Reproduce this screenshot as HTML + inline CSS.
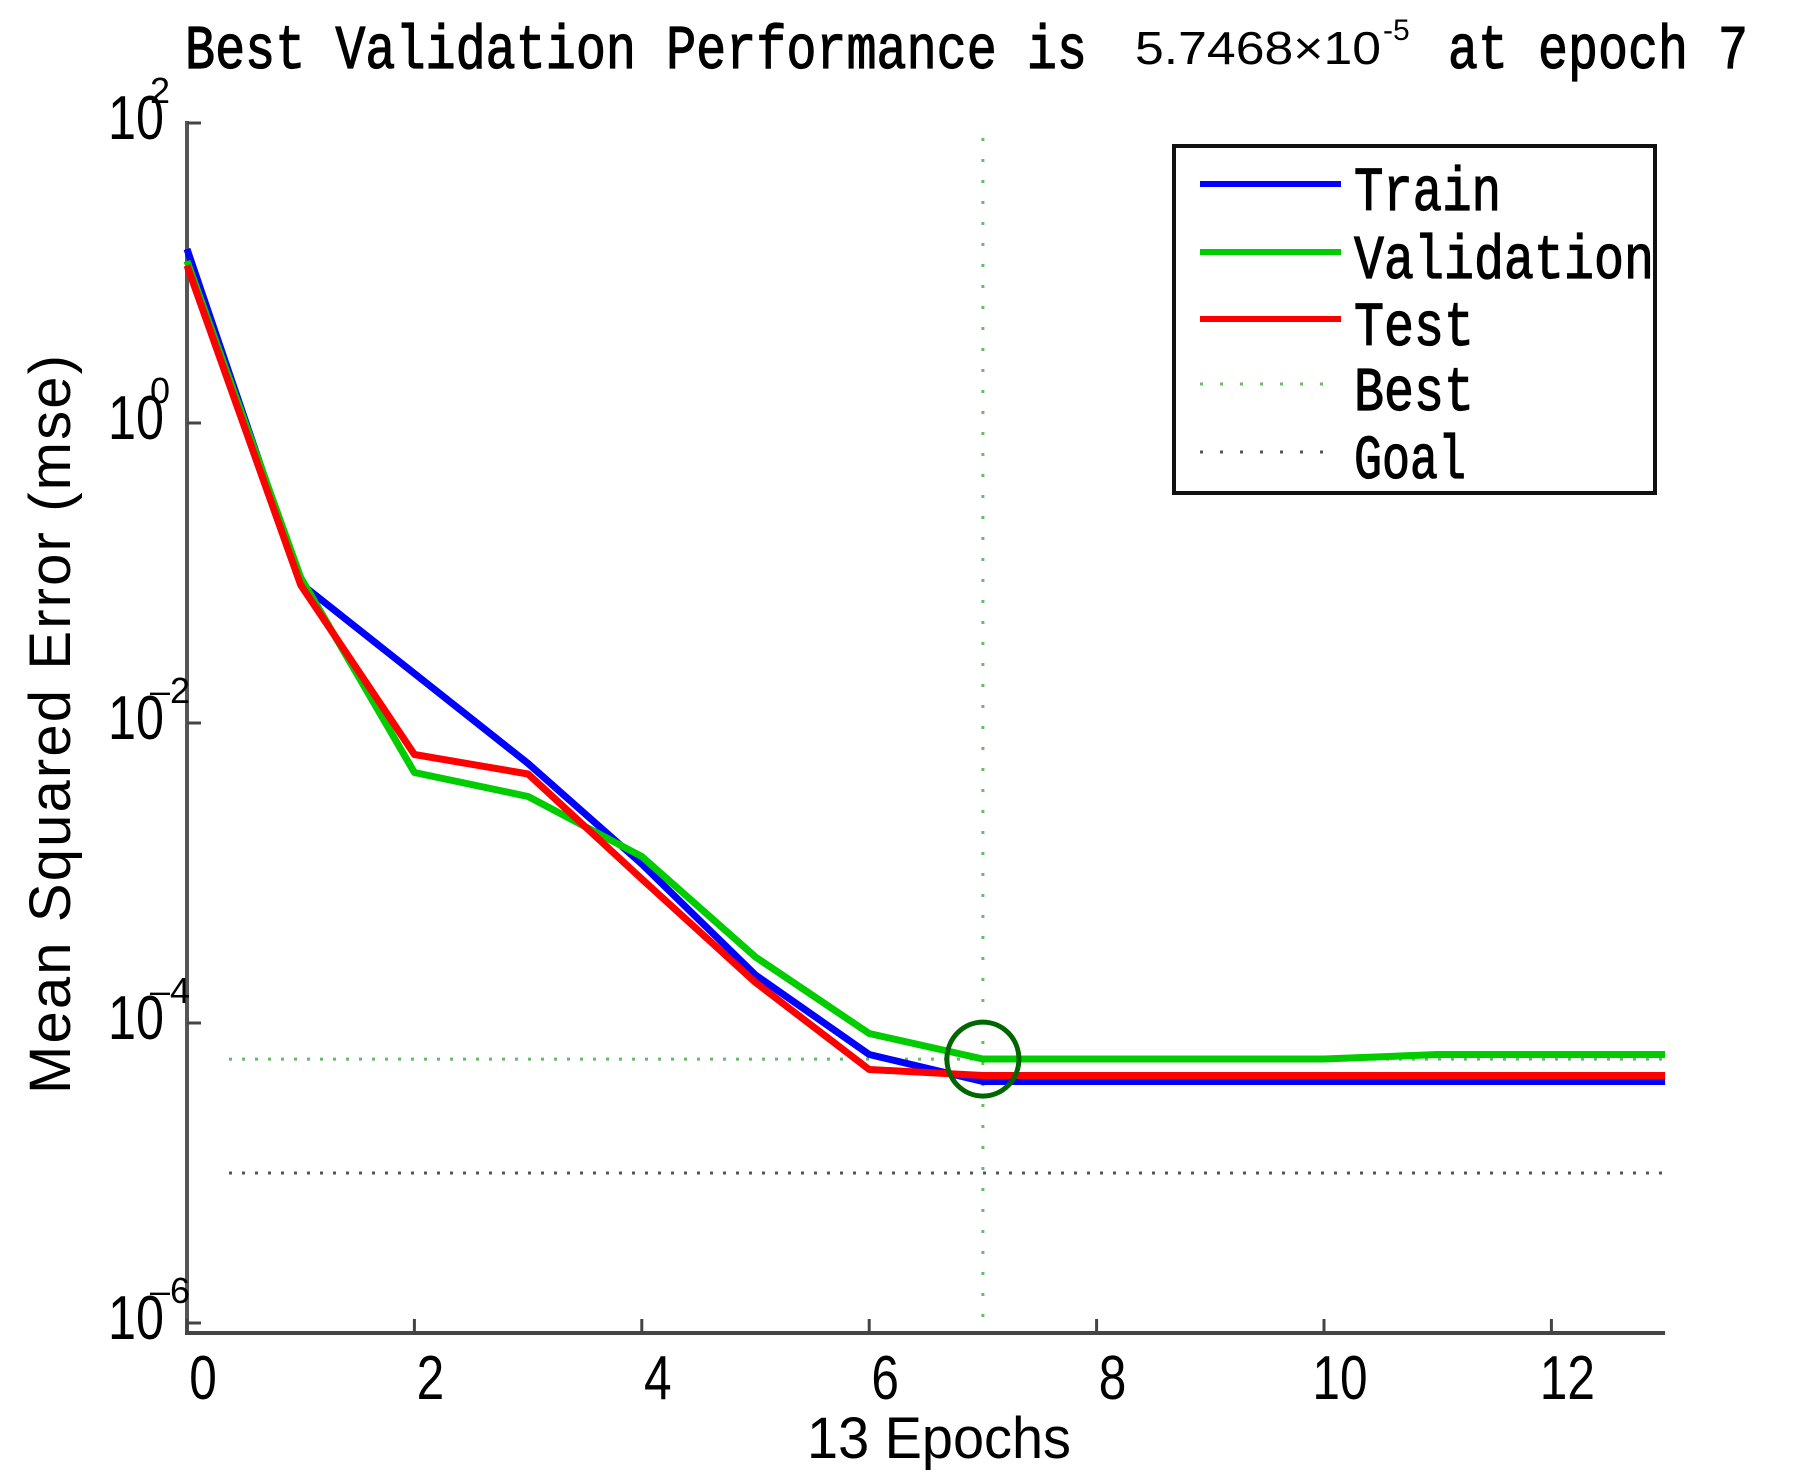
<!DOCTYPE html>
<html><head><meta charset="utf-8"><style>
html,body{margin:0;padding:0;background:#fff;}
svg{display:block;}
text{fill:#000;}
.mono{font-family:"Liberation Mono",monospace;stroke:#000;stroke-width:1.2px;}
.sans{font-family:"Liberation Sans",sans-serif;}
</style></head><body>
<svg id="chart" width="1797" height="1481" viewBox="0 0 1797 1481">
<g>
  <text class="mono" x="185" y="68" font-size="62" textLength="902" lengthAdjust="spacingAndGlyphs">Best Validation Performance is</text>
  <text class="sans" x="1135" y="64" font-size="46" textLength="246" lengthAdjust="spacingAndGlyphs">5.7468×10</text>
  <text class="sans" x="1383" y="40" font-size="30">-5</text>
  <text class="mono" x="1448" y="68" font-size="62" textLength="300" lengthAdjust="spacingAndGlyphs">at epoch 7</text>
</g>
<g id="axes"></g>
<g id="series"></g>
<g>
  <rect x="1174" y="146" width="481" height="347" fill="#fff" stroke="#111" stroke-width="4"/>
  <g><line x1="1200" y1="184" x2="1341" y2="184" stroke="#0000ff" stroke-width="6"/><text class="mono" x="1354" y="210" font-size="62" textLength="147" lengthAdjust="spacingAndGlyphs">Train</text></g>
  <g><line x1="1200" y1="252" x2="1341" y2="252" stroke="#00cc00" stroke-width="6"/><text class="mono" x="1354" y="278" font-size="62" textLength="300" lengthAdjust="spacingAndGlyphs">Validation</text></g>
  <g><line x1="1200" y1="319" x2="1341" y2="319" stroke="#ff0000" stroke-width="6"/><text class="mono" x="1354" y="345" font-size="62" textLength="120" lengthAdjust="spacingAndGlyphs">Test</text></g>
  <g><line x1="1200" y1="384" x2="1330" y2="384" stroke="#66bb66" stroke-width="3" stroke-dasharray="3,17"/><text class="mono" x="1354" y="410" font-size="62" textLength="120" lengthAdjust="spacingAndGlyphs">Best</text></g>
  <g><line x1="1200" y1="452" x2="1330" y2="452" stroke="#555" stroke-width="3" stroke-dasharray="3,17"/><text class="mono" x="1354" y="478" font-size="62" textLength="112" lengthAdjust="spacingAndGlyphs">Goal</text></g>
</g>
<text class="sans" x="807" y="1458" font-size="58" textLength="264" lengthAdjust="spacingAndGlyphs">13 Epochs</text>
<text class="sans" transform="translate(70,1094) rotate(-90)" font-size="58" textLength="739" lengthAdjust="spacing">Mean Squared Error  (mse)</text>
</svg>
<script>
const epochs = [0,1,2,3,4,5,6,7,8,9,10,11,12,13];
const trainLog = [1.16,-1.07,-1.67,-2.27,-2.94,-3.68,-4.21,-4.39,-4.39,-4.39,-4.39,-4.39,-4.39,-4.39];
const validationLog = [1.08,-1.03,-2.33,-2.49,-2.89,-3.56,-4.07,-4.24,-4.24,-4.24,-4.24,-4.21,-4.21,-4.21];
const testLog = [1.05,-1.08,-2.21,-2.34,-3.04,-3.73,-4.31,-4.35,-4.35,-4.35,-4.35,-4.35,-4.35,-4.35];
const xTicks = [0,2,4,6,8,10,12];
const yTicks = [2,0,-2,-4,-6];
const bestEpoch = 7;
const bestLog = -4.2406;
const goalLog = -5;

const NS = 'http://www.w3.org/2000/svg';
const X0 = 187, XPER = 113.7;
const Y0 = 123, YPER = 150;
function xs(e){ return X0 + e * XPER; }
function ys(l){ return Y0 + (2 - l) * YPER; }
const XMAX = xs(13), YBOT = 1333;
function mk(tag, attrs, parent){ const el = document.createElementNS(NS, tag); for (const k in attrs) el.setAttribute(k, attrs[k]); parent.appendChild(el); return el; }
const axes = document.getElementById('axes');
const series = document.getElementById('series');

let gl = mk('line', {x1: 229, x2: XMAX, y1: ys(goalLog), y2: ys(goalLog), stroke: '#555', 'stroke-width': 3, 'stroke-dasharray': '3,10'}, axes);


let bh = mk('line', {x1: 229, x2: XMAX, y1: ys(bestLog), y2: ys(bestLog), stroke: '#66bb66', 'stroke-width': 3, 'stroke-dasharray': '3,10'}, axes);


let bv = mk('line', {x1: xs(bestEpoch), x2: xs(bestEpoch), y1: 138, y2: YBOT, stroke: '#66bb66', 'stroke-width': 3, 'stroke-dasharray': '3,18'}, axes);



let ya = mk('line', {x1: X0, x2: X0, y1: Y0 - 2, y2: YBOT, stroke: '#555', 'stroke-width': 4}, axes);


let xa = mk('line', {x1: X0 - 2, x2: XMAX, y1: YBOT, y2: YBOT, stroke: '#444', 'stroke-width': 4}, axes);



xTicks.forEach(t => {
  const tk = mk('line', {x1: xs(t), x2: xs(t), y1: YBOT, y2: YBOT - 14, stroke: '#444', 'stroke-width': 3}, axes);
  
  
  const lb = mk('text', {x: xs(t) + 16, y: 1399, 'font-size': 62, 'text-anchor': 'middle', class: 'sans', transform: `translate(${(xs(t)+16)*0.2},0) scale(0.8,1)`}, axes);
  lb.textContent = String(t);
  
  
});
yTicks.forEach(t => {
  const y = ys(t);
  const tk = mk('line', {x1: X0, x2: X0 + 14, y1: y, y2: y, stroke: '#444', 'stroke-width': 3}, axes);
  
  
  const lb = mk('text', {x: 108, y: y + 16, 'font-size': 62, class: 'sans', textLength: 56, lengthAdjust: 'spacingAndGlyphs'}, axes);
  lb.textContent = '10';
  
  
  const ex = mk('text', {x: 150, y: y - 20, 'font-size': 36, class: 'sans'}, axes);
  ex.textContent = t < 0 ? '\u2013' + (-t) : String(t);
  
  
});

function drawSeries(vals, color, name){
  const pts = epochs.map((e,i) => xs(e).toFixed(1) + ',' + ys(vals[i]).toFixed(1)).join(' ');
  const pl = mk('polyline', {points: pts, fill: 'none', stroke: color, 'stroke-width': 7, 'stroke-linejoin': 'round'}, series);
  
  
}
drawSeries(trainLog, '#0000ff', 'train-line');
drawSeries(validationLog, '#00cc00', 'validation-line');
drawSeries(testLog, '#ff0000', 'test-line');

const circ = mk('ellipse', {cx: xs(bestEpoch), cy: ys(bestLog), rx: 36, ry: 37, fill: 'none', stroke: '#006600', 'stroke-width': 5}, series);


</script>
</body></html>
